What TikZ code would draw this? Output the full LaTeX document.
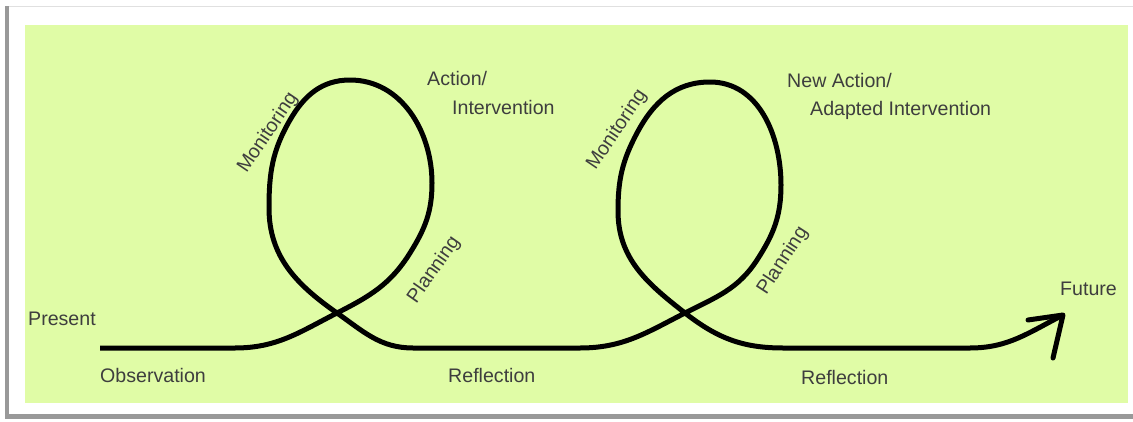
\documentclass[tikz,border=0pt]{standalone}
\usepackage{fontspec}
\setmainfont{Liberation Sans}
\definecolor{bggreen}{RGB}{224,252,166}
\definecolor{txtgray}{RGB}{62,62,62}
\begin{document}
\begin{tikzpicture}[x=1bp,y=1bp,
  lbl/.style={inner sep=0pt, text=txtgray, font=\fontsize{19.6bp}{23bp}\selectfont},
  hl/.style={lbl, anchor=base west},
  curve/.style={line width=5bp, black, line join=round},
]
\useasboundingbox (0,0) rectangle (1133,421);
% frame with shadow
\fill[black!40] (5,2) rectangle (1133,415);
\fill[white] (9,7) rectangle (1133,415);
\draw[black!12, line width=0.8bp] (9,415) -- (1133,415);
\fill[bggreen] (25,18) rectangle (1128,396);

% key points of the spiral
\coordinate (start) at (100,73);
\coordinate (b1) at (235,73);
\coordinate (c1) at (337,108);
\coordinate (q1) at (410,168);
\coordinate (r1) at (432,238);
\coordinate (t1) at (350,341);
\coordinate (u1) at (290,301);
\coordinate (l1) at (269,213);
\coordinate (m1) at (413,73);
\coordinate (b2) at (580,73);
\coordinate (c2) at (685,108);
\coordinate (q2) at (757,161);
\coordinate (r2) at (781,236);
\coordinate (t2) at (710,339);
\coordinate (u2) at (637,288);
\coordinate (l2) at (618,210);
\coordinate (m2) at (783,73);
\coordinate (e) at (970,73);
\coordinate (tip) at (1063,106);
\coordinate (barb1) at (1028,101);
\coordinate (barb2) at (1053,63);

\draw[curve] (start) -- (b1) to[out=0,in=207] (c1) to[out=27,in=238] (q1)
  to[out=58,in=-90] (r1) to[out=90,in=0] (t1) to[out=180,in=60] (u1)
  to[out=240,in=90] (l1) to[out=-90,in=145] (c1) to[out=-35,in=180] (m1)
  -- (b2) to[out=0,in=207] (c2) to[out=27,in=237] (q2)
  to[out=57,in=-90] (r2) to[out=90,in=0] (t2) to[out=180,in=62] (u2)
  to[out=242,in=90] (l2) to[out=-90,in=142] (c2) to[out=-38,in=180] (m2)
  -- (e) to[out=0,in=207] (tip);
\draw[curve, line cap=round] (barb1) -- (tip) -- (barb2);

% labels
\node[hl] (present) at (28,96) {Present};
\node[hl] (obs) at (100,39) {Observation};
\node[lbl, rotate=56] (mon1) at (268,288) {Monitoring};
\node[hl] (act1) at (427,336) {Action/};
\node[hl] (int1) at (452,307) {Intervention};
\node[lbl, rotate=55] (plan1) at (434,151) {Planning};
\node[hl] (ref1) at (448,39) {Reflection};
\node[lbl, rotate=56] (mon2) at (617,291) {Monitoring};
\node[hl] (act2) at (787,334) {New Action/};
\node[hl] (int2) at (810,306) {Adapted Intervention};
\node[lbl, rotate=57] (plan2) at (783,160) {Planning};
\node[hl] (fut) at (1060,126) {Future};
\node[hl] (ref2) at (801,37) {Reflection};
\end{tikzpicture}
\end{document}
